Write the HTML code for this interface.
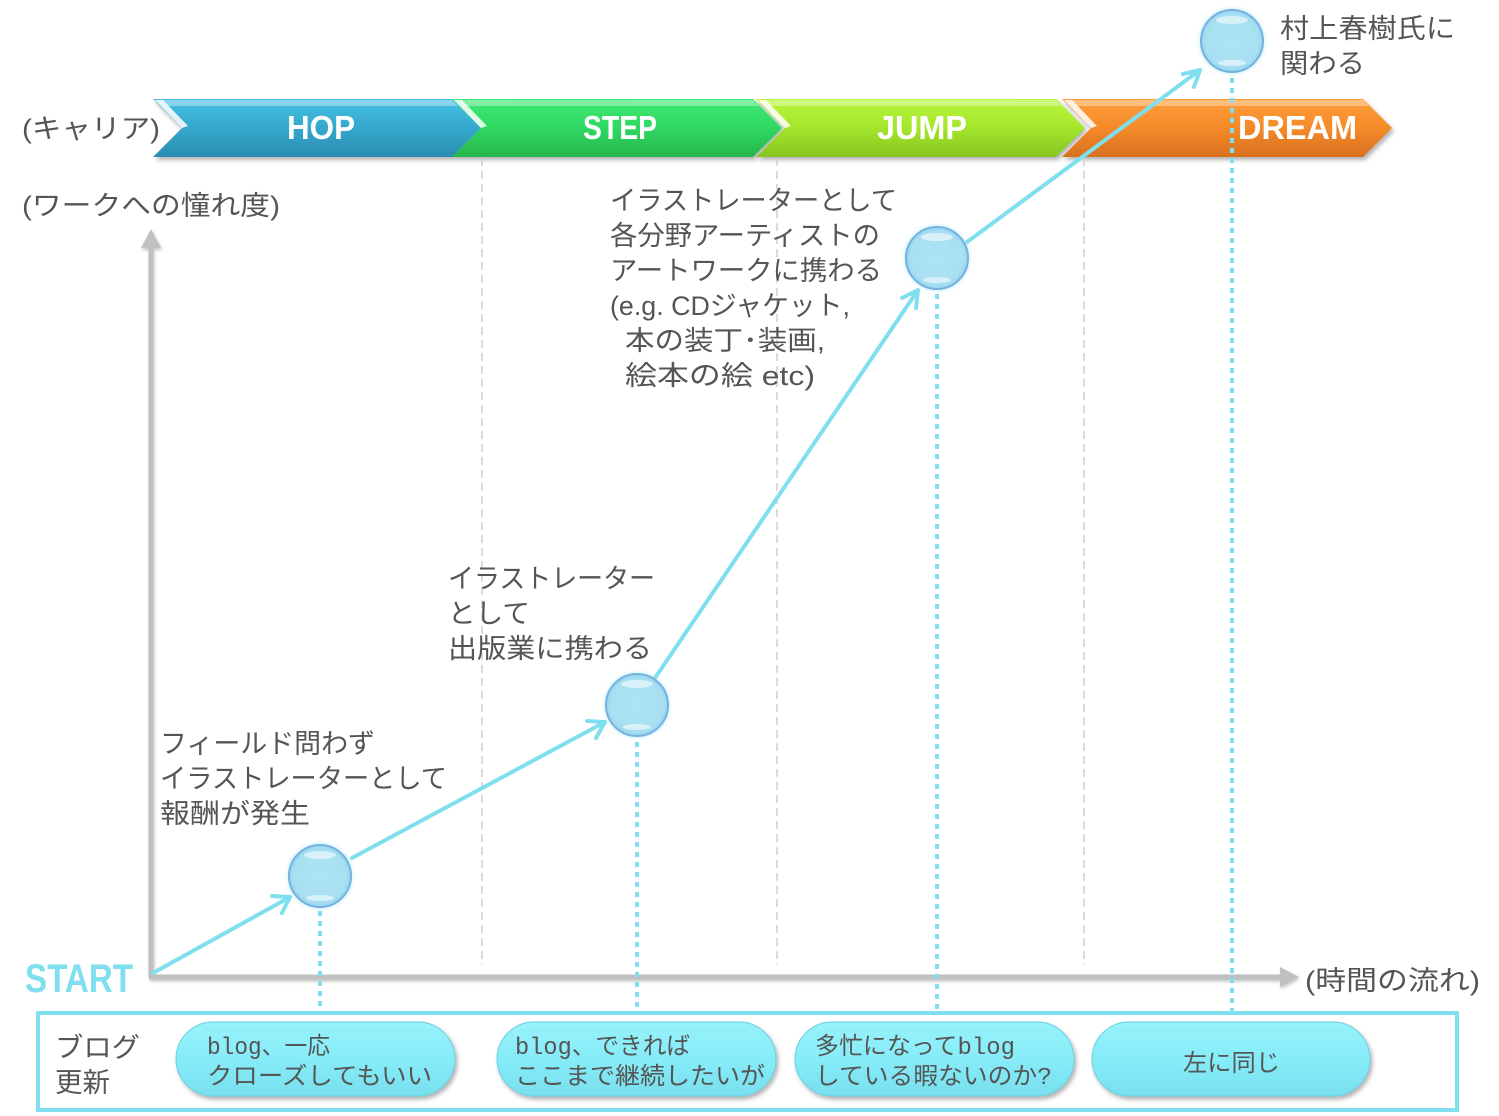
<!DOCTYPE html>
<html><head><meta charset="utf-8"><style>
html,body{margin:0;padding:0;background:#fff;}
svg{display:block;}
.jp{font-family:"Liberation Sans","Noto Sans CJK JP",sans-serif;fill:#555;font-size:27px;}
.pl{font-family:"Liberation Mono","Noto Sans CJK JP",monospace;fill:#555;font-size:24px;}
.cv{font-family:"Liberation Sans",sans-serif;font-weight:bold;fill:#fff;font-size:33px;}
</style></head><body>
<svg width="1499" height="1116" viewBox="0 0 1499 1116" xmlns="http://www.w3.org/2000/svg">
<defs>
<linearGradient id="gH" x1="0" y1="0" x2="0" y2="1"><stop offset="0" stop-color="#45c0e2"/><stop offset="0.5" stop-color="#35a8cc"/><stop offset="1" stop-color="#2a8db0"/></linearGradient>
<linearGradient id="gS" x1="0" y1="0" x2="0" y2="1"><stop offset="0" stop-color="#3ee874"/><stop offset="0.5" stop-color="#2fd862"/><stop offset="1" stop-color="#27b54c"/></linearGradient>
<linearGradient id="gJ" x1="0" y1="0" x2="0" y2="1"><stop offset="0" stop-color="#b8f53a"/><stop offset="0.5" stop-color="#a4e62c"/><stop offset="1" stop-color="#86c420"/></linearGradient>
<linearGradient id="gD" x1="0" y1="0" x2="0" y2="1"><stop offset="0" stop-color="#ff9e3a"/><stop offset="0.5" stop-color="#f58a2a"/><stop offset="1" stop-color="#d8701e"/></linearGradient>
<linearGradient id="gP" x1="0" y1="0" x2="0" y2="1"><stop offset="0" stop-color="#97f2fb"/><stop offset="0.5" stop-color="#86ecf8"/><stop offset="1" stop-color="#78dfee"/></linearGradient>
<radialGradient id="gC" cx="0.5" cy="0.5" r="0.5"><stop offset="0" stop-color="#ade4f4"/><stop offset="0.85" stop-color="#a8e0f2"/><stop offset="1" stop-color="#98d2ee"/></radialGradient>
<filter id="sh" x="-5%" y="-20%" width="110%" height="150%"><feDropShadow dx="2" dy="3" stdDeviation="2" flood-color="#000" flood-opacity="0.3"/></filter>
<filter id="sh2" x="-5%" y="-20%" width="110%" height="150%"><feDropShadow dx="1" dy="2" stdDeviation="1.5" flood-color="#888" flood-opacity="0.5"/></filter>
<filter id="glow" x="-30%" y="-30%" width="160%" height="160%"><feDropShadow dx="0" dy="0" stdDeviation="2" flood-color="#9fe6f6" flood-opacity="0.8"/></filter>
</defs>

<!-- chevrons -->
<g filter="url(#sh)">
<path d="M153,99 L452,99 L481,128 L452,157 L153,157 L182,128 Z" fill="url(#gH)"/>
<path d="M452,99 L753,99 L782,128 L753,157 L452,157 L481,128 Z" fill="url(#gS)"/>
<path d="M756,99 L1056,99 L1085,128 L1056,157 L756,157 L785,128 Z" fill="url(#gJ)"/>
<path d="M1062,99 L1363,99 L1392,128 L1363,157 L1062,157 L1091,128 Z" fill="url(#gD)"/>
</g>
<!-- top highlights -->
<g fill="#fff" opacity="0.35">
<path d="M160,100 L452,100 L458,106 L166,106 Z"/>
<path d="M459,100 L753,100 L759,106 L465,106 Z"/>
<path d="M763,100 L1056,100 L1062,106 L769,106 Z"/>
<path d="M1069,100 L1363,100 L1369,106 L1075,106 Z"/>
</g>
<g fill="#fff" opacity="0.85">
<path d="M155,100 L163,100 L188,126 L182,128 Z"/>
<path d="M454,100 L462,100 L487,126 L481,128 Z"/>
<path d="M758,100 L766,100 L791,126 L785,128 Z"/>
<path d="M1064,100 L1072,100 L1097,126 L1091,128 Z"/>
</g>
<text class="cv" x="287" y="139" textLength="68" lengthAdjust="spacingAndGlyphs">HOP</text>
<text class="cv" x="583" y="139" textLength="74" lengthAdjust="spacingAndGlyphs">STEP</text>
<text class="cv" x="877" y="139" textLength="90" lengthAdjust="spacingAndGlyphs">JUMP</text>
<text class="cv" x="1238" y="139" textLength="119" lengthAdjust="spacingAndGlyphs">DREAM</text>

<!-- gray dashed guides -->
<g stroke="#cfcfcf" stroke-width="1.5" stroke-dasharray="8,5">
<line x1="482" y1="158" x2="482" y2="965"/>
<line x1="777" y1="158" x2="777" y2="965"/>
<line x1="1084" y1="158" x2="1084" y2="965"/>
</g>

<!-- axes -->
<g filter="url(#sh2)">
<line x1="151" y1="977" x2="151" y2="246" stroke="#c0c0c0" stroke-width="5"/>
<polygon points="141,248 151,229 161,248" fill="#c0c0c0"/>
<line x1="149" y1="977" x2="1282" y2="977" stroke="#c0c0c0" stroke-width="5"/>
<polygon points="1280,967 1299,977 1280,987" fill="#c0c0c0"/>
</g>

<!-- dotted verticals -->
<g stroke="#7fdfee" stroke-width="4" stroke-dasharray="5,5">
<line x1="320" y1="911" x2="320" y2="1012"/>
<line x1="637" y1="742" x2="637" y2="1012"/>
<line x1="937" y1="294" x2="937" y2="1012"/>
<line x1="1232" y1="78" x2="1232" y2="1012"/>
</g>

<!-- connectors -->
<g stroke="#7fdfee" stroke-width="4" fill="none" stroke-linecap="round" stroke-linejoin="round">
<line x1="153" y1="973" x2="290" y2="897"/>
<polyline points="272,896 290,897 282,913"/>
<line x1="352" y1="858" x2="605" y2="722"/>
<polyline points="587,721 605,722 596,738"/>
<line x1="655" y1="678" x2="918" y2="290"/>
<polyline points="902,298 918,290 916,308"/>
<line x1="967" y1="242" x2="1200" y2="70"/>
<polyline points="1183,74 1200,70 1194,87"/>
</g>

<!-- circles -->
<g>
<g filter="url(#glow)">
<circle cx="320" cy="876" r="31" fill="url(#gC)" stroke="#74b2e0" stroke-width="2"/>
<circle cx="637" cy="705" r="31" fill="url(#gC)" stroke="#74b2e0" stroke-width="2"/>
<circle cx="937" cy="258" r="31" fill="url(#gC)" stroke="#74b2e0" stroke-width="2"/>
<circle cx="1232" cy="41" r="31" fill="url(#gC)" stroke="#74b2e0" stroke-width="2"/>
</g>
<g fill="#fff" opacity="0.55">
<ellipse cx="320" cy="855" rx="16" ry="4"/><ellipse cx="320" cy="898" rx="14" ry="3"/>
<ellipse cx="637" cy="684" rx="16" ry="4"/><ellipse cx="637" cy="727" rx="14" ry="3"/>
<ellipse cx="937" cy="237" rx="16" ry="4"/><ellipse cx="937" cy="280" rx="14" ry="3"/>
<ellipse cx="1232" cy="20" rx="16" ry="4"/><ellipse cx="1232" cy="63" rx="14" ry="3"/>
</g>
</g>

<!-- labels -->
<text class="jp" x="22" y="138" textLength="138" lengthAdjust="spacingAndGlyphs">(キャリア)</text>
<text class="jp" x="22" y="215" textLength="258" lengthAdjust="spacingAndGlyphs">(ワークへの憧れ度)</text>

<text class="jp" x="1280" y="38" textLength="175" lengthAdjust="spacingAndGlyphs">村上春樹氏に</text>
<text class="jp" x="1280" y="73" textLength="85" lengthAdjust="spacingAndGlyphs">関わる</text>

<text class="jp" x="610" y="210" textLength="287" lengthAdjust="spacingAndGlyphs">イラストレーターとして</text>
<text class="jp" x="610" y="245" textLength="270" lengthAdjust="spacingAndGlyphs">各分野アーティストの</text>
<text class="jp" x="610" y="280" textLength="272" lengthAdjust="spacingAndGlyphs">アートワークに携わる</text>
<text class="jp" x="610" y="315" textLength="240" lengthAdjust="spacingAndGlyphs">(e.g. CDジャケット,</text>
<text class="jp" x="625" y="350" textLength="200" lengthAdjust="spacingAndGlyphs">本の装丁･装画,</text>
<text class="jp" x="625" y="385" textLength="190" lengthAdjust="spacingAndGlyphs">絵本の絵 etc)</text>

<text class="jp" x="448" y="588" textLength="207" lengthAdjust="spacingAndGlyphs">イラストレーター</text>
<text class="jp" x="448" y="623" textLength="82" lengthAdjust="spacingAndGlyphs">として</text>
<text class="jp" x="448" y="658" textLength="204" lengthAdjust="spacingAndGlyphs">出版業に携わる</text>

<text class="jp" x="160" y="753" textLength="215" lengthAdjust="spacingAndGlyphs">フィールド問わず</text>
<text class="jp" x="160" y="788" textLength="287" lengthAdjust="spacingAndGlyphs">イラストレーターとして</text>
<text class="jp" x="160" y="823" textLength="150" lengthAdjust="spacingAndGlyphs">報酬が発生</text>

<text x="25" y="992" font-family="Liberation Sans, sans-serif" font-weight="bold" font-size="40" fill="#7fdfee" textLength="108" lengthAdjust="spacingAndGlyphs">START</text>
<text class="jp" x="1305" y="990" textLength="175" lengthAdjust="spacingAndGlyphs">(時間の流れ)</text>

<!-- bottom box -->
<rect x="38" y="1013" width="1419" height="97" fill="none" stroke="#7fdfee" stroke-width="4"/>
<text class="jp" x="55" y="1057" textLength="85" lengthAdjust="spacingAndGlyphs">ブログ</text>
<text class="jp" x="55" y="1092" textLength="55" lengthAdjust="spacingAndGlyphs">更新</text>

<g filter="url(#sh)">
<rect x="176" y="1022" width="279" height="74" rx="37" fill="url(#gP)" stroke="#6cd0e2" stroke-width="1"/>
<rect x="497" y="1022" width="279" height="74" rx="37" fill="url(#gP)" stroke="#6cd0e2" stroke-width="1"/>
<rect x="795" y="1022" width="279" height="74" rx="37" fill="url(#gP)" stroke="#6cd0e2" stroke-width="1"/>
<rect x="1092" y="1022" width="278" height="74" rx="37" fill="url(#gP)" stroke="#6cd0e2" stroke-width="1"/>
</g>
<text class="pl" x="207" y="1054" textLength="123" lengthAdjust="spacingAndGlyphs">blog、一応</text>
<text class="pl" x="207" y="1084" textLength="225" lengthAdjust="spacingAndGlyphs">クローズしてもいい</text>
<text class="pl" x="515" y="1054" textLength="175" lengthAdjust="spacingAndGlyphs">blog、できれば</text>
<text class="pl" x="515" y="1084" textLength="250" lengthAdjust="spacingAndGlyphs">ここまで継続したいが</text>
<text class="pl" x="815" y="1054" textLength="200" lengthAdjust="spacingAndGlyphs">多忙になってblog</text>
<text class="pl" x="815" y="1084" textLength="237" lengthAdjust="spacingAndGlyphs">している暇ないのか?</text>
<text class="pl" x="1183" y="1071" textLength="97" lengthAdjust="spacingAndGlyphs">左に同じ</text>
</svg>
</body></html>
